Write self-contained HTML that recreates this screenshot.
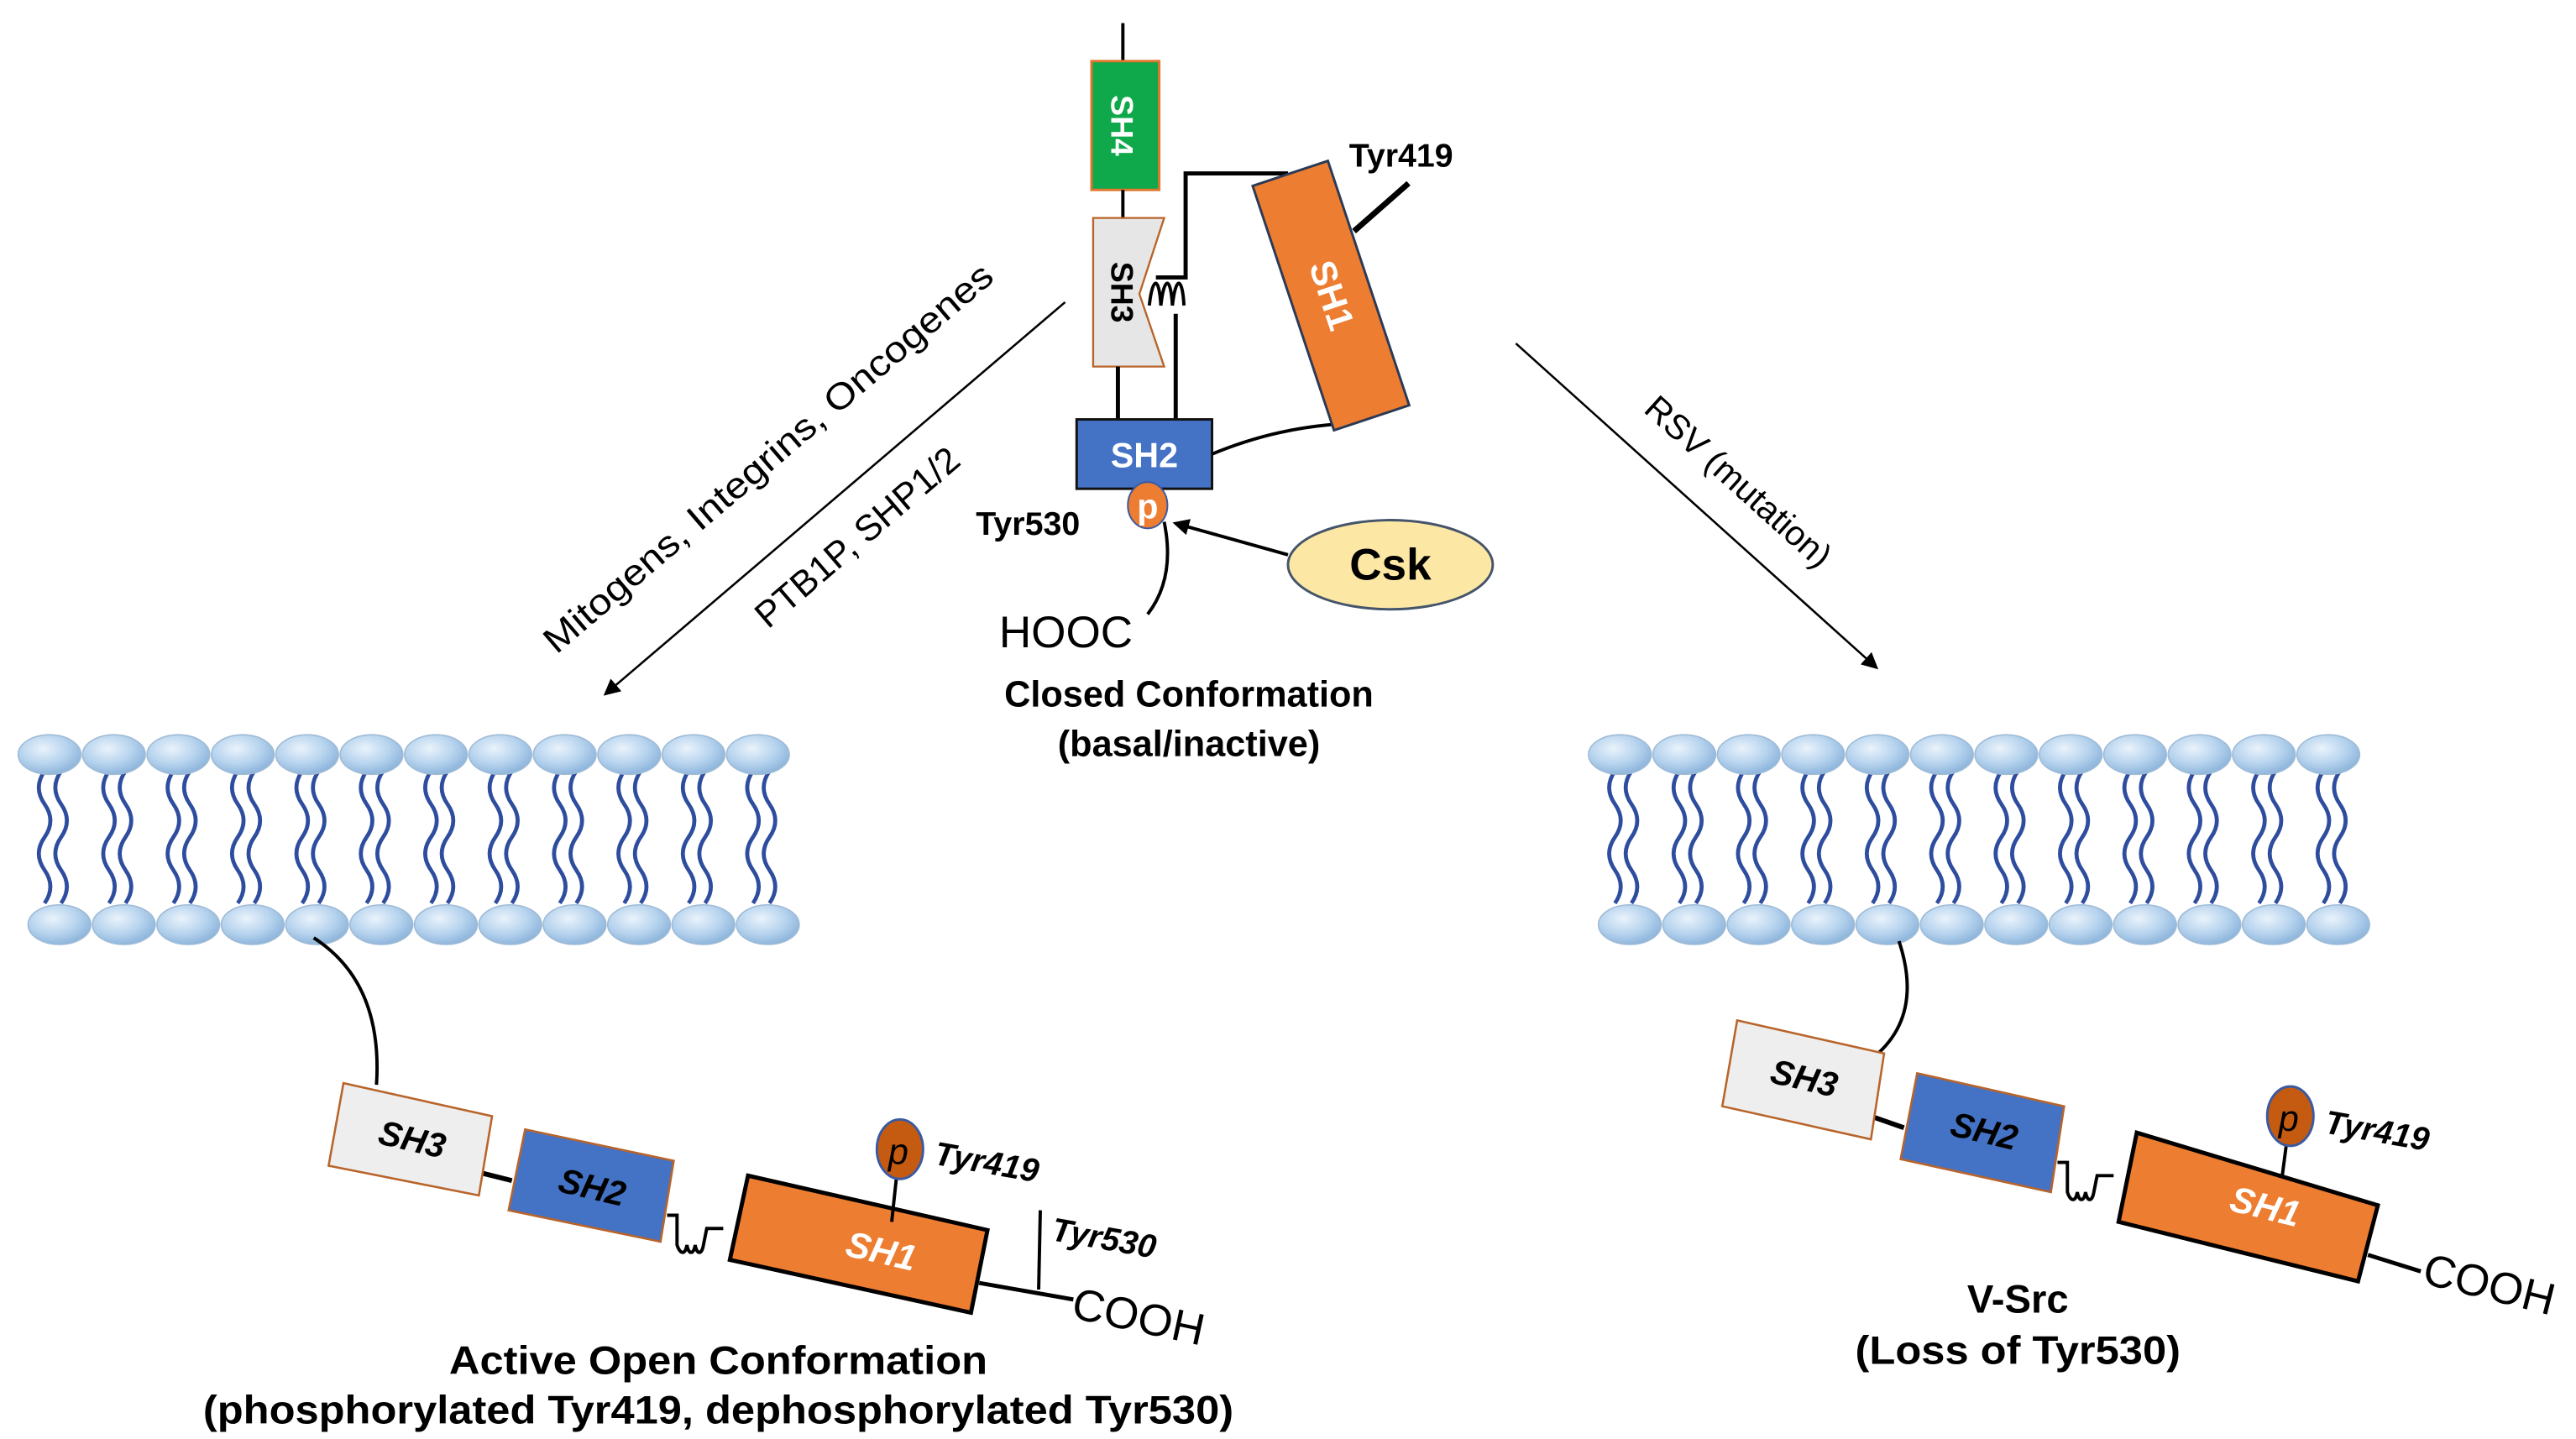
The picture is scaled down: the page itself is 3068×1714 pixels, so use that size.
<!DOCTYPE html>
<html><head><meta charset="utf-8"><style>
html,body{margin:0;padding:0;background:#fff;}
svg{display:block;}
text{font-family:"Liberation Sans",Arial,sans-serif;}
</style></head><body>
<svg width="3068" height="1714" viewBox="0 0 1560 871.5" xmlns="http://www.w3.org/2000/svg">
<defs>
<radialGradient id="hg" cx="40%" cy="35%" r="65%">
<stop offset="0" stop-color="#eaf3fb"/><stop offset="0.6" stop-color="#b6d3ee"/><stop offset="1" stop-color="#8fb6dc"/>
</radialGradient>
<marker id="ah" markerWidth="10" markerHeight="10" refX="8" refY="5" orient="auto" markerUnits="userSpaceOnUse">
<path d="M0,0 L10,5 L0,10 z" fill="#000"/></marker>
<g id="tail">
<path d="M-5,0 q-7,10 0,20 q7,10 0,20 q-7,10 0,20 q7,10 0,20" fill="none" stroke="#2f4d9e" stroke-width="2.4"/>
<path d="M5,0 q-7,10 0,20 q7,10 0,20 q-7,10 0,20 q7,10 0,20" fill="none" stroke="#2f4d9e" stroke-width="2.4"/>
</g>
<g id="heads" fill="url(#hg)" stroke="#9fbbd6" stroke-width="0.8">
<ellipse cx="30" cy="457" rx="19" ry="12"/><ellipse cx="69" cy="457" rx="19" ry="12"/><ellipse cx="108" cy="457" rx="19" ry="12"/><ellipse cx="147" cy="457" rx="19" ry="12"/><ellipse cx="186" cy="457" rx="19" ry="12"/><ellipse cx="225" cy="457" rx="19" ry="12"/><ellipse cx="264" cy="457" rx="19" ry="12"/><ellipse cx="303" cy="457" rx="19" ry="12"/><ellipse cx="342" cy="457" rx="19" ry="12"/><ellipse cx="381" cy="457" rx="19" ry="12"/><ellipse cx="420" cy="457" rx="19" ry="12"/><ellipse cx="459" cy="457" rx="19" ry="12"/>
<ellipse cx="36" cy="560" rx="19" ry="12"/><ellipse cx="75" cy="560" rx="19" ry="12"/><ellipse cx="114" cy="560" rx="19" ry="12"/><ellipse cx="153" cy="560" rx="19" ry="12"/><ellipse cx="192" cy="560" rx="19" ry="12"/><ellipse cx="231" cy="560" rx="19" ry="12"/><ellipse cx="270" cy="560" rx="19" ry="12"/><ellipse cx="309" cy="560" rx="19" ry="12"/><ellipse cx="348" cy="560" rx="19" ry="12"/><ellipse cx="387" cy="560" rx="19" ry="12"/><ellipse cx="426" cy="560" rx="19" ry="12"/><ellipse cx="465" cy="560" rx="19" ry="12"/>
</g>
<g id="mem">
<use href="#tail" x="32" y="467"/><use href="#tail" x="71" y="467"/><use href="#tail" x="110" y="467"/><use href="#tail" x="149" y="467"/><use href="#tail" x="188" y="467"/><use href="#tail" x="227" y="467"/><use href="#tail" x="266" y="467"/><use href="#tail" x="305" y="467"/><use href="#tail" x="344" y="467"/><use href="#tail" x="383" y="467"/><use href="#tail" x="422" y="467"/><use href="#tail" x="461" y="467"/>
<use href="#heads"/>
</g>
</defs>

<use href="#mem"/>
<use href="#mem" x="951"/>

<!-- Top closed conformation -->
<line x1="680" y1="14" x2="680" y2="37" stroke="#000" stroke-width="2"/>
<rect x="661" y="37" width="41" height="78" fill="#0fa84a" stroke="#e0772e" stroke-width="1.5"/>
<text transform="translate(673,76) rotate(90)" text-anchor="middle" font-size="19" font-weight="bold" fill="#fff">SH4</text>
<line x1="680" y1="115" x2="680" y2="132" stroke="#000" stroke-width="2"/>
<path d="M662,132 L705,132 L690,178 L705,222 L662,222 Z" fill="#e6e6e6" stroke="#b8642a" stroke-width="1.2"/>
<text transform="translate(673,177) rotate(90)" text-anchor="middle" font-size="19" font-weight="bold" fill="#000">SH3</text>
<line x1="677" y1="222" x2="677" y2="254" stroke="#000" stroke-width="2.5"/>
<path d="M712,254 L712,190 M700,168 L718,168 L718,105 L780,105" fill="none" stroke="#000" stroke-width="2.5"/>
<path d="M696,185 c2,-18 6,-18 7,0 c2,-18 6,-18 7,0 c2,-18 6,-18 7,0" fill="none" stroke="#000" stroke-width="2"/>
<rect x="652" y="254" width="82" height="42" fill="#4472c4" stroke="#111" stroke-width="1.5"/>
<text x="693" y="283" text-anchor="middle" font-size="21" font-weight="bold" fill="#fff">SH2</text>
<path d="M734,275 Q770,260 808,257" fill="none" stroke="#000" stroke-width="2"/>
<g transform="translate(806,179) rotate(-18.4)">
<rect x="-24" y="-78" width="48" height="156" fill="#ed7d31" stroke="#2b3a55" stroke-width="1.5"/>
<text transform="rotate(90)" x="0" y="-7" text-anchor="middle" font-size="22" font-weight="bold" fill="#fff" dy="14">SH1</text>
</g>
<line x1="820" y1="140" x2="853" y2="111" stroke="#000" stroke-width="3.5"/>
<text x="817" y="101" font-size="20" font-weight="bold">Tyr419</text>
<path d="M705,316 Q712,350 695,372" fill="none" stroke="#000" stroke-width="2"/>
<ellipse cx="695" cy="306" rx="12" ry="14" fill="#ed7d31" stroke="#3b5aa0" stroke-width="1"/>
<text x="695" y="314" text-anchor="middle" font-size="21" font-weight="bold" fill="#fff">p</text>
<text x="591" y="324" font-size="20" font-weight="bold">Tyr530</text>
<text x="605" y="392" font-size="27">HOOC</text>
<ellipse cx="842" cy="342" rx="62" ry="27" fill="#fde7a4" stroke="#44546a" stroke-width="1.5"/>
<text x="842" y="351" text-anchor="middle" font-size="27" font-weight="bold">Csk</text>
<line x1="780" y1="336" x2="712" y2="317" stroke="#000" stroke-width="2" marker-end="url(#ah)"/>
<text x="720" y="428" text-anchor="middle" font-size="22" font-weight="bold">Closed Conformation</text>
<text x="720" y="458" text-anchor="middle" font-size="22" font-weight="bold">(basal/inactive)</text>

<!-- Arrows -->
<line x1="645" y1="183" x2="367" y2="420" stroke="#000" stroke-width="1.3" marker-end="url(#ah)"/>
<text transform="translate(470,283) rotate(-40.5)" text-anchor="middle" font-size="22" textLength="350" lengthAdjust="spacingAndGlyphs">Mitogens,  Integrins,  Oncogenes</text>
<text transform="translate(524,331) rotate(-40.5)" text-anchor="middle" font-size="22">PTB1P, SHP1/2</text>
<line x1="918" y1="208" x2="1136" y2="404" stroke="#000" stroke-width="1.3" marker-end="url(#ah)"/>
<text transform="translate(1048,297) rotate(42)" text-anchor="middle" font-size="21">RSV (mutation)</text>

<!-- Left open -->
<path d="M190,568 Q232,595 228,657" fill="none" stroke="#000" stroke-width="2"/>
<line x1="290" y1="710" x2="310" y2="715" stroke="#000" stroke-width="3"/>
<polygon points="208,656 298,676 290,724 199,706" fill="#eeeeee" stroke="#b8642a" stroke-width="1.3"/>
<text transform="translate(248,697) rotate(13)" text-anchor="middle" font-size="21" font-weight="bold" font-style="italic">SH3</text>
<polygon points="318,684 408,703 400,752 308,733" fill="#4472c4" stroke="#b8642a" stroke-width="1.3"/>
<text transform="translate(357,726) rotate(13)" text-anchor="middle" font-size="21" font-weight="bold" font-style="italic">SH2</text>
<path d="M404,736 l6,0 l0,18 c2,6 5,6 6,0 c1,6 4,6 5,0 c1,6 4,6 5,0 l2,-10 l10,0" fill="none" stroke="#000" stroke-width="2"/>
<polygon points="453,712 598,745 588,795 442,763" fill="#ed7d31" stroke="#000" stroke-width="2.5"/>
<text transform="translate(532,765) rotate(13)" text-anchor="middle" font-size="22" font-weight="bold" font-style="italic" fill="#fff">SH1</text>
<line x1="540" y1="740" x2="543" y2="712" stroke="#000" stroke-width="2"/>
<ellipse cx="545" cy="696" rx="14" ry="18" fill="#c55a11" stroke="#3b5aa0" stroke-width="1.5"/>
<text x="544" y="705" text-anchor="middle" font-size="22" font-style="italic">p</text>
<text transform="translate(565,705) rotate(10)" font-size="20" font-weight="bold" font-style="italic">Tyr419</text>
<line x1="593" y1="777" x2="650" y2="787" stroke="#000" stroke-width="2.5"/>
<line x1="630" y1="733" x2="629" y2="781" stroke="#000" stroke-width="2"/>
<text transform="translate(636,751) rotate(10)" font-size="20" font-weight="bold" font-style="italic">Tyr530</text>
<text transform="translate(648,798) rotate(12)" font-size="27">COOH</text>
<text x="435" y="832" text-anchor="middle" font-size="24" font-weight="bold" textLength="326" lengthAdjust="spacingAndGlyphs">Active Open Conformation</text>
<text x="435" y="862" text-anchor="middle" font-size="24" font-weight="bold" textLength="624" lengthAdjust="spacingAndGlyphs">(phosphorylated Tyr419, dephosphorylated Tyr530)</text>

<!-- Right V-Src -->
<path d="M1150,570 Q1165,615 1135,640" fill="none" stroke="#000" stroke-width="2"/>
<line x1="1133" y1="676" x2="1153" y2="683" stroke="#000" stroke-width="3"/>
<polygon points="1052,618 1141,638 1133,690 1043,670" fill="#eeeeee" stroke="#b8642a" stroke-width="1.3"/>
<text transform="translate(1091,660) rotate(13)" text-anchor="middle" font-size="21" font-weight="bold" font-style="italic">SH3</text>
<polygon points="1161,650 1250,670 1242,722 1151,702" fill="#4472c4" stroke="#b8642a" stroke-width="1.3"/>
<text transform="translate(1200,692) rotate(13)" text-anchor="middle" font-size="21" font-weight="bold" font-style="italic">SH2</text>
<path d="M1246,704 l6,0 l0,18 c2,6 5,6 6,0 c1,6 4,6 5,0 c1,6 4,6 5,0 l2,-10 l10,0" fill="none" stroke="#000" stroke-width="2"/>
<polygon points="1294,686 1440,730 1428,776 1283,740" fill="#ed7d31" stroke="#000" stroke-width="2.5"/>
<text transform="translate(1370,738) rotate(14)" text-anchor="middle" font-size="22" font-weight="bold" font-style="italic" fill="#fff">SH1</text>
<line x1="1382" y1="713" x2="1385" y2="690" stroke="#000" stroke-width="2"/>
<ellipse cx="1387" cy="676" rx="14" ry="18" fill="#c55a11" stroke="#3b5aa0" stroke-width="1.5"/>
<text x="1386" y="685" text-anchor="middle" font-size="22" font-style="italic">p</text>
<text transform="translate(1407,686) rotate(10)" font-size="20" font-weight="bold" font-style="italic">Tyr419</text>
<line x1="1434" y1="760" x2="1466" y2="770" stroke="#000" stroke-width="2.5"/>
<text transform="translate(1466,777) rotate(14)" font-size="27">COOH</text>
<text x="1222" y="795" text-anchor="middle" font-size="24" font-weight="bold">V-Src</text>
<text x="1222" y="826" text-anchor="middle" font-size="24" font-weight="bold" textLength="197" lengthAdjust="spacingAndGlyphs">(Loss of Tyr530)</text>
</svg>
</body></html>
